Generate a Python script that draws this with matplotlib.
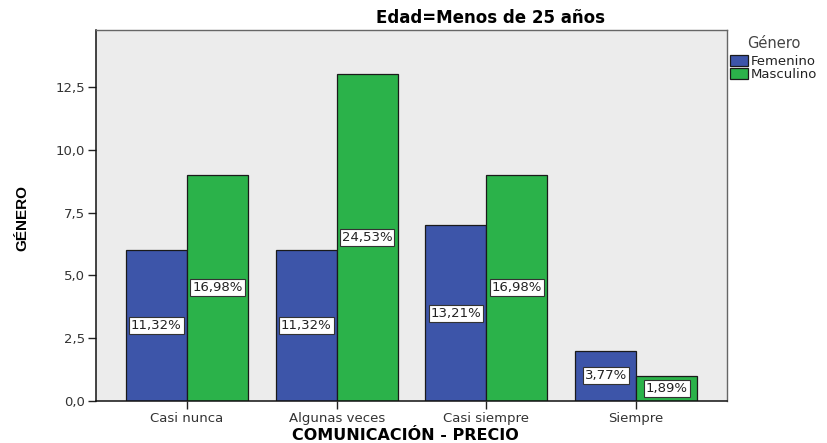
import matplotlib.pyplot as plt
import numpy as np

plt.rcParams['font.family'] = ['DejaVu Sans']

# Counts per response category, split by gender
categorias = ['Casi nunca', 'Algunas veces', 'Casi siempre', 'Siempre']
femenino = [6, 6, 7, 2]
masculino = [9, 13, 9, 1]
pct_fem = ['11,32%', '11,32%', '13,21%', '3,77%']
pct_masc = ['16,98%', '24,53%', '16,98%', '1,89%']
yticks = [0, 2.5, 5.0, 7.5, 10.0, 12.5]

azul = '#3d55a9'
verde = '#2bb24a'

fig = plt.figure(figsize=(8.27, 4.43), dpi=100)
ax = fig.add_axes([96 / 827, 42 / 443, 631 / 827, 371 / 443])
ax.set_facecolor('#ececec')

x = np.arange(len(categorias))
w = 0.407
b1 = ax.bar(x - w / 2, femenino, w, color=azul, edgecolor='#1a1a1a', linewidth=0.9, label='Femenino')
b2 = ax.bar(x + w / 2, masculino, w, color=verde, edgecolor='#1a1a1a', linewidth=0.9, label='Masculino')

box = dict(boxstyle='square,pad=0.15', facecolor='white', edgecolor='#333333', linewidth=0.8)
for xi, v, t in zip(x - w / 2, femenino, pct_fem):
    ax.text(xi, v / 2, t, ha='center', va='center', fontsize=9.5, color='#222222', bbox=box)
for xi, v, t in zip(x + w / 2, masculino, pct_masc):
    ax.text(xi, v / 2, t, ha='center', va='center', fontsize=9.5, color='#222222', bbox=box)

ax.set_xlim(-0.607, 3.607)
ax.set_ylim(0, 14.77)
ax.set_yticks(yticks)
ax.set_yticklabels([f'{v:.1f}'.replace('.', ',') for v in yticks], fontsize=9.5)
ax.set_xticks(x)
ax.set_xticklabels(categorias, fontsize=9.5)
ax.tick_params(direction='out', length=6, width=1, colors='#222222', pad=2)
for lbl in ax.get_xticklabels() + ax.get_yticklabels():
    lbl.set_color('#333333')

for s in ['left', 'bottom']:
    ax.spines[s].set_color('#111111')
    ax.spines[s].set_linewidth(1.1)
for s in ['top', 'right']:
    ax.spines[s].set_color('#666666')
    ax.spines[s].set_linewidth(1.0)

ax.set_xlabel('COMUNICACIÓN - PRECIO', fontsize=11.5, fontweight='bold', va='center')
ax.xaxis.set_label_coords(0.49, -(435 - 401) / 371)
ax.set_ylabel('GÉNERO', fontsize=11, fontweight='bold', va='center',
              family='Liberation Sans')
ax.yaxis.set_label_coords(-(96 - 22) / 631, (401 - 218) / 371)
fig.text(490 / 827, 1 - 18 / 443, 'Edad=Menos de 25 años', ha='center', va='center',
         fontsize=12, fontweight='bold')

leg = fig.legend(handles=[b1, b2], title='Género', loc='upper left',
                 bbox_to_anchor=(727 / 827, 1 - 33 / 443), frameon=False,
                 fontsize=9.5, title_fontsize=10.5, handlelength=1.4, handleheight=0.9,
                 handletextpad=0.2, labelspacing=0.0, borderaxespad=0, borderpad=0.2)
leg.get_title().set_color('#444444')
leg._legend_box.sep = 3
for t in leg.get_texts():
    t.set_color('#222222')

fig.savefig('out.png', dpi=100)
